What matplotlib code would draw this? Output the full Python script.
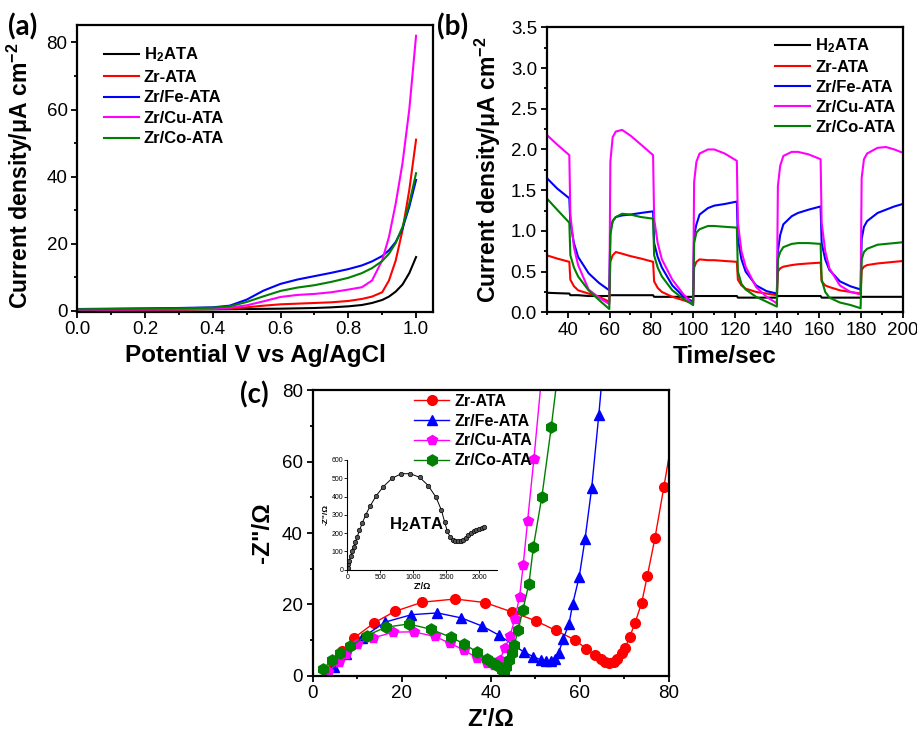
import matplotlib
matplotlib.use('Agg')
import matplotlib.pyplot as plt
from matplotlib.ticker import MultipleLocator, FormatStrFormatter

plt.rcParams['font.family'] = ['Liberation Sans', 'DejaVu Sans']
plt.rcParams['mathtext.fontset'] = 'custom'
plt.rcParams['mathtext.rm'] = 'Liberation Sans'
plt.rcParams['mathtext.bf'] = 'Liberation Sans:bold'
plt.rcParams['mathtext.default'] = 'bf'

# ---------------- (a) LSV curves ----------------
potential = [0.0, 0.1, 0.2, 0.3, 0.4, 0.45, 0.5, 0.55, 0.6, 0.65, 0.7, 0.75,
             0.8, 0.84, 0.87, 0.9, 0.92, 0.94, 0.96, 0.98, 1.0]
lsv_h2ata = [0.3, 0.3, 0.3, 0.35, 0.4, 0.45, 0.5, 0.55, 0.6, 0.7, 0.8, 1.0,
             1.3, 1.7, 2.3, 3.2, 4.2, 5.7, 7.8, 11.2, 16.0]
lsv_zr = [0.3, 0.3, 0.3, 0.35, 0.5, 0.7, 1.0, 1.5, 1.9, 2.1, 2.3, 2.5,
          2.9, 3.5, 4.2, 5.5, 9.0, 15.0, 24.0, 36.0, 51.0]
lsv_fe = [0.5, 0.6, 0.7, 0.8, 1.0, 1.5, 3.3, 6.0, 8.0, 9.3, 10.3, 11.3,
          12.4, 13.5, 14.7, 16.3, 18.0, 20.5, 24.5, 31.0, 39.0]
lsv_cu = [0.3, 0.3, 0.35, 0.4, 0.6, 0.9, 1.6, 2.8, 4.1, 4.7, 5.0, 5.5,
          6.3, 7.0, 9.0, 15.0, 22.0, 32.0, 44.0, 60.0, 82.0]
lsv_co = [0.4, 0.5, 0.6, 0.7, 0.9, 1.3, 2.6, 4.3, 5.9, 6.9, 7.6, 8.6,
          9.8, 11.2, 12.7, 14.8, 17.0, 20.2, 25.0, 32.0, 41.0]

# ---------------- (b) photocurrent on/off ----------------
time_s = [30, 35, 40.8,
          41.3, 43, 45, 50, 55, 59.9,
          60.4, 61.5, 63, 66, 70, 75, 80.8,
          81.3, 83, 85, 90, 95, 99.9,
          100.4, 101.5, 103, 107, 110, 115, 120.8,
          121.3, 123, 125, 130, 135, 139.9,
          140.4, 141.5, 143, 147, 150, 155, 160.8,
          161.3, 163, 165, 170, 175, 179.9,
          180.4, 181.5, 183, 188, 192, 196, 200]
pc_h2ata = [0.24, 0.235, 0.23,
            0.21, 0.21, 0.21, 0.20, 0.20, 0.20,
            0.21, 0.21, 0.21, 0.21, 0.21, 0.21, 0.21,
            0.19, 0.19, 0.19, 0.19, 0.19, 0.19,
            0.20, 0.20, 0.20, 0.20, 0.20, 0.20, 0.20,
            0.18, 0.18, 0.18, 0.18, 0.18, 0.18,
            0.20, 0.20, 0.20, 0.20, 0.20, 0.20, 0.20,
            0.18, 0.18, 0.18, 0.18, 0.18, 0.18,
            0.19, 0.19, 0.19, 0.19, 0.19, 0.19, 0.19]
pc_zr = [0.70, 0.66, 0.62,
         0.40, 0.32, 0.27, 0.23, 0.19, 0.13,
         0.62, 0.70, 0.74, 0.72, 0.69, 0.66, 0.62,
         0.38, 0.30, 0.25, 0.19, 0.15, 0.11,
         0.55, 0.62, 0.65, 0.64, 0.64, 0.63, 0.62,
         0.40, 0.33, 0.29, 0.25, 0.23, 0.21,
         0.50, 0.54, 0.56, 0.58, 0.59, 0.60, 0.61,
         0.38, 0.33, 0.31, 0.27, 0.25, 0.23,
         0.52, 0.56, 0.58, 0.60, 0.61, 0.62, 0.63]
pc_fe = [1.65, 1.52, 1.40,
         1.10, 0.85, 0.68, 0.48, 0.36, 0.27,
         1.00, 1.12, 1.17, 1.19, 1.20, 1.22, 1.24,
         0.85, 0.68, 0.55, 0.33, 0.20, 0.13,
         0.95, 1.08, 1.20, 1.28, 1.31, 1.33, 1.36,
         0.90, 0.65, 0.50, 0.33, 0.26, 0.23,
         0.75, 0.95, 1.08, 1.18, 1.22, 1.26, 1.30,
         0.85, 0.65, 0.52, 0.38, 0.32, 0.28,
         0.90, 1.05, 1.12, 1.22, 1.26, 1.30, 1.33]
pc_cu = [2.18, 2.06, 1.93,
         1.20, 0.80, 0.58, 0.28, 0.18, 0.10,
         1.85, 2.15, 2.22, 2.24, 2.17, 2.06, 1.93,
         1.15, 0.85, 0.65, 0.40, 0.23, 0.09,
         1.60, 1.85, 1.95, 2.00, 2.00, 1.95, 1.86,
         1.10, 0.75, 0.56, 0.31, 0.19, 0.11,
         1.55, 1.80, 1.92, 1.97, 1.97, 1.94, 1.88,
         1.10, 0.75, 0.54, 0.33, 0.25, 0.22,
         1.65, 1.88, 1.95, 2.02, 2.03, 2.00, 1.96]
pc_co = [1.40, 1.26, 1.10,
         0.70, 0.55, 0.44, 0.27, 0.15, 0.04,
         0.95, 1.12, 1.17, 1.21, 1.20, 1.17, 1.15,
         0.70, 0.55, 0.44, 0.27, 0.17, 0.09,
         0.85, 0.98, 1.02, 1.06, 1.06, 1.05, 1.04,
         0.50, 0.35, 0.28, 0.19, 0.13, 0.07,
         0.65, 0.74, 0.80, 0.84, 0.85, 0.85, 0.84,
         0.40, 0.25, 0.18, 0.12, 0.09, 0.05,
         0.65, 0.74, 0.78, 0.83, 0.84, 0.85, 0.86]

# ---------------- (c) Nyquist ----------------
zr_re = [4.5, 6.6, 9.2, 13.8, 18.4, 24.6, 32.0, 38.7, 44.7, 50.1, 54.6, 59.0,
         61.4, 63.4, 64.7, 65.7, 66.6, 67.6, 68.4, 69.4, 70.2, 71.2, 72.4,
         73.9, 75.2, 76.9, 78.9, 81.5]
zr_im = [3.5, 6.8, 10.5, 14.8, 18.0, 20.6, 21.5, 20.5, 17.9, 15.4, 12.7, 10.0,
         7.6, 5.7, 4.6, 3.9, 3.6, 3.9, 4.6, 6.3, 7.7, 10.8, 14.7,
         20.3, 28.0, 38.5, 52.8, 72.0]
fe_re = [4.8, 7.5, 11.0, 16.2, 22.2, 28.0, 33.4, 38.1, 41.8, 47.5, 49.6, 51.2,
         52.5, 53.5, 54.4, 55.3, 56.3, 57.6, 58.4, 59.9, 61.2, 62.7, 64.3, 65.5]
fe_im = [2.3, 6.0, 10.5, 15.0, 17.1, 17.6, 16.2, 13.9, 11.4, 6.6, 5.3, 4.5,
         4.1, 4.1, 4.6, 6.5, 10.3, 14.5, 20.0, 27.8, 38.3, 52.7, 73.2, 90.0]
cu_re = [3.5, 5.8, 7.5, 9.9, 13.6, 18.1, 22.7, 27.4, 30.9, 34.1, 36.9, 39.2,
         40.8, 42.0, 43.2, 44.3, 45.4, 46.5, 47.3, 48.3, 49.7, 51.3]
cu_im = [1.0, 3.9, 6.2, 9.0, 10.6, 12.2, 12.3, 11.0, 9.1, 7.1, 5.0, 3.5,
         3.0, 4.4, 7.7, 11.0, 15.8, 22.2, 31.0, 43.5, 60.7, 82.0]
co_re = [2.4, 4.3, 6.1, 8.4, 12.1, 16.4, 21.6, 26.6, 31.0, 34.1, 36.9, 39.1,
         40.5, 41.6, 42.5, 42.9, 43.4, 44.1, 44.7, 45.3, 46.2, 47.2, 48.6,
         49.6, 51.5, 53.6, 55.2]
co_im = [2.0, 4.3, 6.3, 8.2, 11.2, 13.6, 14.5, 13.0, 10.8, 8.9, 6.6, 4.7,
         3.6, 2.6, 1.6, 1.0, 2.5, 4.5, 6.5, 8.7, 12.8, 18.3, 25.8,
         36.2, 50.2, 69.6, 86.0]

# inset: H2ATA
h2_re = [5, 15, 30, 50, 70, 95, 120, 150, 185, 230, 280, 350, 440, 550, 680,
         820, 960, 1100, 1230, 1350, 1430, 1480, 1520, 1560, 1600, 1640, 1680,
         1720, 1760, 1800, 1840, 1880, 1920, 1960, 2000, 2040, 2080]
h2_im = [10, 30, 50, 75, 100, 125, 150, 180, 215, 258, 300, 350, 405, 455, 500,
         525, 525, 505, 460, 395, 325, 260, 210, 180, 165, 158, 155,
         158, 165, 175, 188, 200, 210, 217, 222, 227, 232]

names = ['H$_2$ATA', 'Zr-ATA', 'Zr/Fe-ATA', 'Zr/Cu-ATA', 'Zr/Co-ATA']
colors = ['black', '#ff0000', '#0000ff', '#ff00ff', '#008000']

W, H = 917, 734


def box(l, t, r, b):
    return [l / W, 1 - b / H, (r - l) / W, (b - t) / H]


def style(ax, fs=13.5):
    for s in ax.spines.values():
        s.set_linewidth(1.6)
    ax.tick_params(which='both', direction='out', top=False, right=False,
                   width=1.3, labelsize=fs, pad=3)
    ax.tick_params(which='major', length=4)
    ax.tick_params(which='minor', length=2.5)


def panel_tag(x, y, s):
    fig.text(x / W, 1 - y / H, s, family='Lato', fontweight='bold',
             fontsize=20, va='baseline')


fig = plt.figure(figsize=(W / 100, H / 100), dpi=100)

# (a)
ax = fig.add_axes(box(77.3, 25, 433, 311.7))
for ys, nm, c in zip([lsv_h2ata, lsv_zr, lsv_fe, lsv_cu, lsv_co], names, colors):
    ax.plot(potential, ys, color=c, lw=1.5, label=nm)
ax.set_xlim(0, 1.05)
ax.set_ylim(-0.3, 85.2)
ax.xaxis.set_major_locator(MultipleLocator(0.2))
ax.xaxis.set_minor_locator(MultipleLocator(0.1))
ax.yaxis.set_major_locator(MultipleLocator(20))
ax.yaxis.set_minor_locator(MultipleLocator(10))
ax.xaxis.set_major_formatter(FormatStrFormatter('%.1f'))
style(ax)
ax.set_xlabel('Potential V vs Ag/AgCl', fontsize=17.5, fontweight='bold', labelpad=4)
ax.set_ylabel('Current density/μA cm$^{-2}$', fontsize=16.6, fontweight='bold')
ax.yaxis.set_label_coords(-0.119, 0.475)
ax.legend(loc='upper left', bbox_to_anchor=(0.032, 0.98), frameon=False,
          prop={'weight': 'bold', 'size': 12}, handlelength=2.1,
          handletextpad=0.3, labelspacing=0.33)
panel_tag(8, 35, '(a)')

# (b)
ax = fig.add_axes(box(546.7, 27.3, 902.7, 312.3))
for ys, nm, c in zip([pc_h2ata, pc_zr, pc_fe, pc_cu, pc_co], names, colors):
    ax.plot(time_s, ys, color=c, lw=1.5, label=nm)
ax.set_xlim(30, 200)
ax.set_ylim(0, 3.5)
ax.xaxis.set_major_locator(MultipleLocator(20))
ax.xaxis.set_minor_locator(MultipleLocator(10))
ax.yaxis.set_major_locator(MultipleLocator(0.5))
ax.yaxis.set_minor_locator(MultipleLocator(0.25))
ax.yaxis.set_major_formatter(FormatStrFormatter('%.1f'))
style(ax)
ax.set_xlabel('Time/sec', fontsize=17.5, fontweight='bold', labelpad=4)
ax.set_ylabel('Current density/μA cm$^{-2}$', fontsize=16.6, fontweight='bold')
ax.yaxis.set_label_coords(-0.123, 0.5)
ax.legend(loc='upper right', bbox_to_anchor=(1.022, 1.02), frameon=False,
          prop={'weight': 'bold', 'size': 12}, handlelength=2.1,
          handletextpad=0.3, labelspacing=0.3)
panel_tag(437, 35, '(b)')

# (c)
ax = fig.add_axes(box(312.7, 390.3, 668.7, 675.7))
series_c = [(zr_re, zr_im, 'o', 7), (fe_re, fe_im, '^', 7.5),
            (cu_re, cu_im, 'p', 7.5), (co_re, co_im, 'h', 8)]
for (xs, ys, mk, ms), nm, c in zip(series_c, names[1:], colors[1:]):
    ax.plot(xs, ys, color=c, lw=1.0, marker=mk, ms=ms, mec=c, mfc=c, label=nm)
ax.set_xlim(0, 80)
ax.set_ylim(0, 80)
ax.xaxis.set_major_locator(MultipleLocator(20))
ax.xaxis.set_minor_locator(MultipleLocator(10))
ax.yaxis.set_major_locator(MultipleLocator(20))
ax.yaxis.set_minor_locator(MultipleLocator(10))
style(ax)
ax.set_xlabel("Z'/Ω", fontsize=17.5, fontweight='bold', labelpad=4)
ax.set_ylabel('-Z"/Ω', fontsize=17.5, fontweight='bold', labelpad=6)
ax.legend(loc='upper left', bbox_to_anchor=(0.245, 1.038), frameon=False,
          prop={'weight': 'bold', 'size': 11.5}, handlelength=2.2,
          handletextpad=0.3, labelspacing=0.3)
panel_tag(240, 403, '(c)')

# inset
axi = fig.add_axes(box(347.3, 460, 496.7, 569.7))
axi.plot(h2_re, h2_im, color='black', lw=0.7, marker='o', ms=3.2,
         mfc='#555555', mec='black', mew=0.5)
axi.set_xlim(0, 2270)
axi.set_ylim(0, 600)
axi.xaxis.set_major_locator(MultipleLocator(500))
axi.yaxis.set_major_locator(MultipleLocator(100))
axi.spines['top'].set_visible(False)
axi.spines['right'].set_visible(False)
for s in ('left', 'bottom'):
    axi.spines[s].set_linewidth(0.8)
axi.tick_params(direction='out', length=2, width=0.6, labelsize=5, pad=1)
axi.set_xlabel("Z'/Ω", fontsize=6.5, fontweight='bold', labelpad=1)
axi.set_ylabel('-Z"/Ω', fontsize=6, fontweight='bold', labelpad=1)
axi.patch.set_alpha(0)
axi.text(1050, 245, 'H$_2$ATA', ha='center', va='center', fontsize=12, fontweight='bold')

fig.savefig('out.png', dpi=100)
